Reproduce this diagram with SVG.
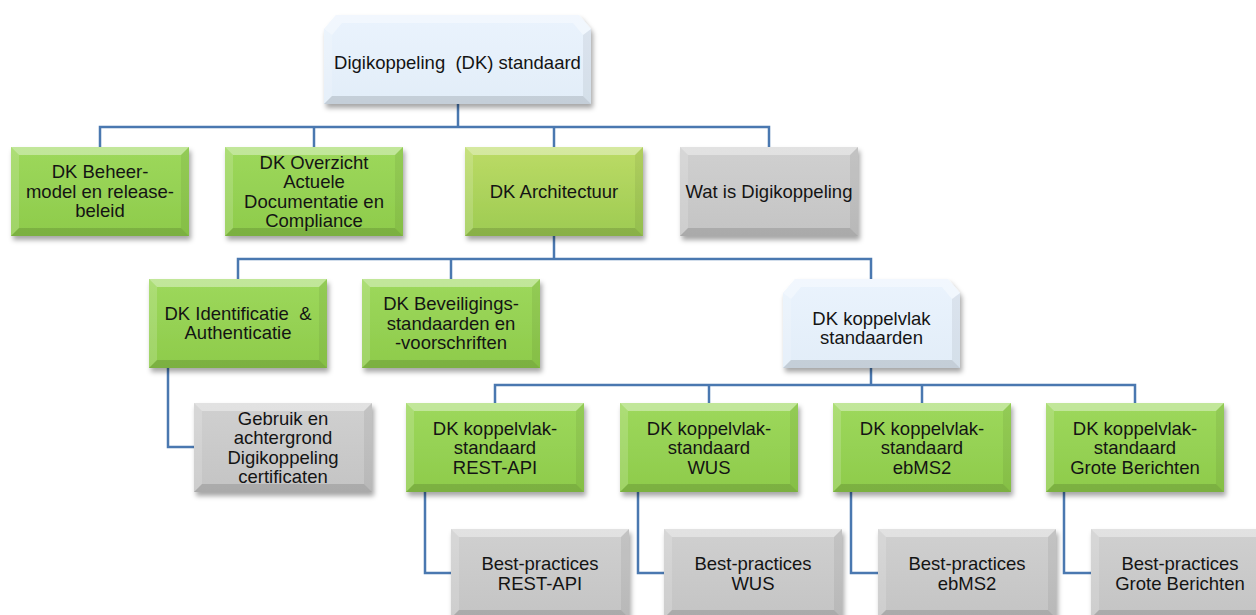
<svg xmlns="http://www.w3.org/2000/svg" xmlns:xlink="http://www.w3.org/1999/xlink" width="1256" height="615" viewBox="0 0 1256 615">
  <style>
    .lbl { font-family: "Liberation Sans", Arial, sans-serif; font-size: 18.5px; fill: #141414; text-anchor: middle; white-space: pre; }
    .conn { fill: none; stroke: #4a78b0; stroke-width: 2.5; stroke-linejoin: miter; }
    .green { fill: url(#gGreen); }
    .arch { fill: url(#gArch); }
    .gray { fill: url(#gGray); }
    .blue { fill: url(#gBlue); }
    .bTop { fill: #ffffff; fill-opacity: 0.38; }
    .bLeft { fill: #ffffff; fill-opacity: 0.16; }
    .bRight { fill: #000000; fill-opacity: 0.06; }
    .bBot { fill: #000000; fill-opacity: 0.13; }
    .base { filter: url(#shadow); }
  </style>
  <defs>
    <linearGradient id="gGreen" x1="0" y1="0" x2="0" y2="1">
      <stop offset="0" stop-color="#9dd85c"/>
      <stop offset="1" stop-color="#8ecb4b"/>
    </linearGradient>
    <linearGradient id="gArch" x1="0" y1="0" x2="0" y2="1">
      <stop offset="0" stop-color="#bcdb66"/>
      <stop offset="1" stop-color="#9dcb52"/>
    </linearGradient>
    <linearGradient id="gGray" x1="0" y1="0" x2="0" y2="1">
      <stop offset="0" stop-color="#d0d0d0"/>
      <stop offset="1" stop-color="#c4c4c4"/>
    </linearGradient>
    <linearGradient id="gBlue" x1="0" y1="0" x2="0" y2="1">
      <stop offset="0" stop-color="#eaf3fd"/>
      <stop offset="1" stop-color="#e2edf8"/>
    </linearGradient>
    <filter id="shadow" x="-10%" y="-10%" width="125%" height="135%">
      <feDropShadow dx="2" dy="4" stdDeviation="2.5" flood-color="#000" flood-opacity="0.35"/>
    </filter>
    <g id="bevel">
      <polygon class="bTop" points="0,0 178,0 170,8 8,8"/>
      <polygon class="bLeft" points="0,0 8,8 8,81 0,89"/>
      <polygon class="bRight" points="178,0 178,89 170,81 170,8"/>
      <polygon class="bBot" points="0,89 8,81 170,81 178,89"/>
    </g>
    <rect id="box" width="178" height="89"/>
  </defs>

  <g id="connectors">
    <polyline class="conn" points="458,104 458,127"/>
    <polyline class="conn" points="100,147 100,127 769,127 769,147"/>
    <polyline class="conn" points="314,127 314,147"/>
    <polyline class="conn" points="554,127 554,147"/>
    <polyline class="conn" points="554,236 554,259"/>
    <polyline class="conn" points="238,279 238,259 871,259 871,279"/>
    <polyline class="conn" points="451,259 451,279"/>
    <polyline class="conn" points="168,368 168,447 194,447"/>
    <polyline class="conn" points="871,368 871,385"/>
    <polyline class="conn" points="495,403 495,385 1135,385 1135,403"/>
    <polyline class="conn" points="709,385 709,403"/>
    <polyline class="conn" points="922,385 922,403"/>
    <polyline class="conn" points="425,492 425,573 451,573"/>
    <polyline class="conn" points="638,492 638,573 664,573"/>
    <polyline class="conn" points="851,492 851,573 878,573"/>
    <polyline class="conn" points="1064,492 1064,573 1091,573"/>
  </g>

  <g id="n-root">
    <polygon class="blue base" points="336,15 579,15 591,29 591,104 324,104 324,29"/>
    <polygon class="bTop" fill-opacity="0.7" points="324,29 336,15 579,15 591,29 583,35 573,23 342,23 332,35"/>
    <polygon class="bLeft" points="324,29 332,35 332,96 324,104"/>
    <polygon class="bRight" points="591,29 591,104 583,96 583,35"/>
    <polygon class="bBot" points="324,104 332,96 583,96 591,104"/>
    <text class="lbl" x="457.5" y="68.5" xml:space="preserve">Digikoppeling  (DK) standaard</text>
  </g>

  <g id="n-beheer">
    <use href="#box" x="11" y="147" class="green base"/>
    <use href="#bevel" x="11" y="147"/>
    <text class="lbl" x="100" y="178"><tspan x="100">DK Beheer-</tspan><tspan x="100" dy="19.5">model en release-</tspan><tspan x="100" dy="19.5">beleid</tspan></text>
  </g>

  <g id="n-overzicht">
    <use href="#box" x="225" y="147" class="green base"/>
    <use href="#bevel" x="225" y="147"/>
    <text class="lbl" x="314" y="168.5"><tspan x="314">DK Overzicht</tspan><tspan x="314" dy="19.5">Actuele</tspan><tspan x="314" dy="19.5">Documentatie en</tspan><tspan x="314" dy="19.5">Compliance</tspan></text>
  </g>

  <g id="n-architectuur">
    <use href="#box" x="465" y="147" class="arch base"/>
    <use href="#bevel" x="465" y="147"/>
    <text class="lbl" x="554" y="197.5">DK Architectuur</text>
  </g>

  <g id="n-watis">
    <use href="#box" x="680" y="147" class="gray base"/>
    <use href="#bevel" x="680" y="147"/>
    <text class="lbl" x="769" y="197.5">Wat is Digikoppeling</text>
  </g>

  <g id="n-identificatie">
    <use href="#box" x="149" y="279" class="green base"/>
    <use href="#bevel" x="149" y="279"/>
    <text class="lbl" x="238" y="319.5" xml:space="preserve"><tspan x="238">DK Identificatie  &amp;</tspan><tspan x="238" dy="19.5">Authenticatie</tspan></text>
  </g>

  <g id="n-beveiliging">
    <use href="#box" x="362" y="279" class="green base"/>
    <use href="#bevel" x="362" y="279"/>
    <text class="lbl" x="451" y="310"><tspan x="451">DK Beveiligings-</tspan><tspan x="451" dy="19.5">standaarden en</tspan><tspan x="451" dy="19.5">-voorschriften</tspan></text>
  </g>

  <g id="n-koppelvlak">
    <polygon class="blue base" points="795,279 948,279 960,293 960,368 783,368 783,293"/>
    <polygon class="bTop" fill-opacity="0.7" points="783,293 795,279 948,279 960,293 952,299 942,287 801,287 791,299"/>
    <polygon class="bLeft" points="783,293 791,299 791,360 783,368"/>
    <polygon class="bRight" points="960,293 960,368 952,360 952,299"/>
    <polygon class="bBot" points="783,368 791,360 952,360 960,368"/>
    <text class="lbl" x="871.5" y="324.5"><tspan x="871.5">DK koppelvlak</tspan><tspan x="871.5" dy="19.5">standaarden</tspan></text>
  </g>

  <g id="n-gebruik">
    <use href="#box" x="194" y="403" class="gray base"/>
    <use href="#bevel" x="194" y="403"/>
    <text class="lbl" x="283" y="424.5"><tspan x="283">Gebruik en</tspan><tspan x="283" dy="19.5">achtergrond</tspan><tspan x="283" dy="19.5">Digikoppeling</tspan><tspan x="283" dy="19.5">certificaten</tspan></text>
  </g>

  <g id="n-rest">
    <use href="#box" x="406" y="403" class="green base"/>
    <use href="#bevel" x="406" y="403"/>
    <text class="lbl" x="495" y="434.5"><tspan x="495">DK koppelvlak-</tspan><tspan x="495" dy="19.5">standaard</tspan><tspan x="495" dy="19.5">REST-API</tspan></text>
  </g>

  <g id="n-wus">
    <use href="#box" x="620" y="403" class="green base"/>
    <use href="#bevel" x="620" y="403"/>
    <text class="lbl" x="709" y="434.5"><tspan x="709">DK koppelvlak-</tspan><tspan x="709" dy="19.5">standaard</tspan><tspan x="709" dy="19.5">WUS</tspan></text>
  </g>

  <g id="n-ebms2">
    <use href="#box" x="833" y="403" class="green base"/>
    <use href="#bevel" x="833" y="403"/>
    <text class="lbl" x="922" y="434.5"><tspan x="922">DK koppelvlak-</tspan><tspan x="922" dy="19.5">standaard</tspan><tspan x="922" dy="19.5">ebMS2</tspan></text>
  </g>

  <g id="n-grote">
    <use href="#box" x="1046" y="403" class="green base"/>
    <use href="#bevel" x="1046" y="403"/>
    <text class="lbl" x="1135" y="434.5"><tspan x="1135">DK koppelvlak-</tspan><tspan x="1135" dy="19.5">standaard</tspan><tspan x="1135" dy="19.5">Grote Berichten</tspan></text>
  </g>

  <g id="n-bp-rest">
    <use href="#box" x="451" y="529" class="gray base"/>
    <use href="#bevel" x="451" y="529"/>
    <text class="lbl" x="540" y="570"><tspan x="540">Best-practices</tspan><tspan x="540" dy="19.5">REST-API</tspan></text>
  </g>

  <g id="n-bp-wus">
    <use href="#box" x="664" y="529" class="gray base"/>
    <use href="#bevel" x="664" y="529"/>
    <text class="lbl" x="753" y="570"><tspan x="753">Best-practices</tspan><tspan x="753" dy="19.5">WUS</tspan></text>
  </g>

  <g id="n-bp-ebms2">
    <use href="#box" x="878" y="529" class="gray base"/>
    <use href="#bevel" x="878" y="529"/>
    <text class="lbl" x="967" y="570"><tspan x="967">Best-practices</tspan><tspan x="967" dy="19.5">ebMS2</tspan></text>
  </g>

  <g id="n-bp-grote">
    <use href="#box" x="1091" y="529" class="gray base"/>
    <use href="#bevel" x="1091" y="529"/>
    <text class="lbl" x="1180" y="570"><tspan x="1180">Best-practices</tspan><tspan x="1180" dy="19.5">Grote Berichten</tspan></text>
  </g>
</svg>
